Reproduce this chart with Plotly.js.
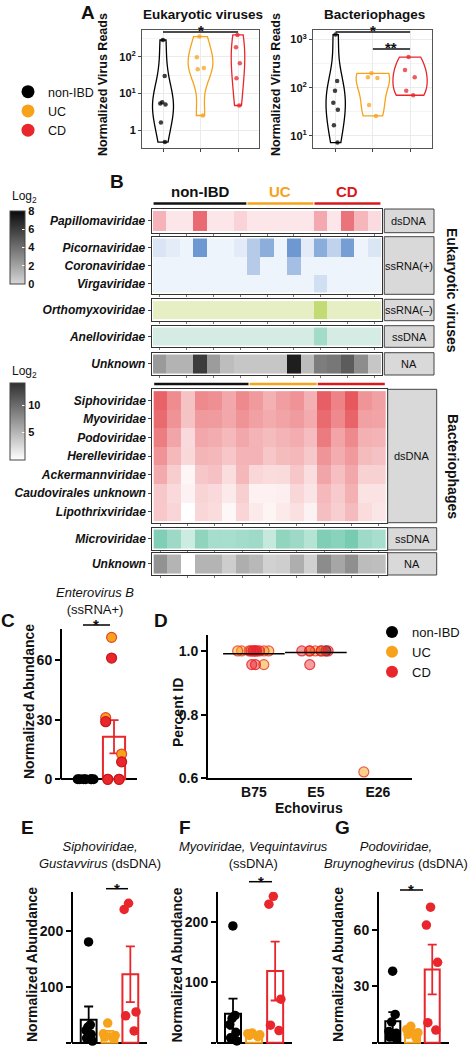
<!DOCTYPE html>
<html><head><meta charset="utf-8">
<script src="https://cdn.plot.ly/plotly-3.0.1.min.js"></script>
<style>html,body{margin:0;padding:0;background:#fff}#chart{width:470px;height:1050px}</style>
</head><body><div id="chart"></div>
<script>
// ================= DATA =================
const groups = ['non-IBD', 'UC', 'CD'];

// Panel A: normalized virus reads per sample
const eukNonIBD = [290, 30, 5.8, 5.3, 5.0, 1.6, 0.47];
const eukUC = [360, 98, 50, 46, 2.5];
const eukCD = [400, 185, 67, 26, 4.7];
const phageNonIBD = [1270, 138, 87, 49, 35, 16.7, 7.3];
const phageUC = [200, 165, 160, 44, 26];
const phageCD = [435, 235, 165, 87, 70];

// Panel B: log2 abundance heatmaps (17 samples)
const samples = ['N1','N2','N3','N4','N5','N6','N7','U1','U2','U3','U4','U5','C1','C2','C3','C4','C5'];
const sampleGroupSizes = [7, 5, 5];
const eukDsDNAFamilies = ['Papillomaviridae'];
const eukSsRNApFamilies = ['Picornaviridae', 'Coronaviridae', 'Virgaviridae'];
const eukSsRNAmFamilies = ['Orthomyxoviridae'];
const eukSsDNAFamilies = ['Anelloviridae'];
const eukNAFamilies = ['Unknown'];
const papillomaviridae = [2.3,0,0,5.5,0,0,0.85,0,0,0,0,0,2.7,0,5.1,2.1,0.5];
const picornaviridae = [0.9,0.46,0,5.4,0,0,0.5,2.4,4.1,0,5.4,0.5,4.15,1.9,5.0,0,0.84];
const coronaviridae = [0,0,0,0,0,0,0,2.4,0,0,3.1,0,0,0,0,0,0];
const virgaviridae = [0,0,0,0,0,0,0,0,0,0,0,0,1.2,0,0,0,0];
const orthomyxoviridae = [0,0,0,0,0,0,0,0,0,0,0,0,4,0,0,0,0];
const anelloviridae = [0,0,0,0,0,0,0,0,0,0,0,0,2.4,0,0,0,0];
const eukUnknown = [2.35,1.37,1.37,6.04,2.27,0.98,0.63,0.63,0.63,0.63,7.2,1.02,3.5,3.73,4.78,2.86,0.63];

const phageDsDNAFamilies = ['Siphoviridae','Myoviridae','Podoviridae','Herelleviridae','Ackermannviridae','Caudovirales unknown','Lipothrixviridae'];
const phageSsDNAFamilies = ['Microviridae'];
const phageNAFamilies = ['Unknown'];
const siphoviridae = [11.2,8.2,4.3,8.4,8.0,6.2,8.4,7.2,5.6,6.9,7.7,5.6,11.5,8.9,11.9,7.6,6.8];
const myoviridae = [10.6,7.7,4.3,7.2,7.1,6.2,7.7,6.8,6.0,6.6,7.1,6.0,10.6,8.4,11.1,6.8,6.6];
const podoviridae = [9.3,6.4,2.7,6.2,5.9,5.0,6.2,5.4,4.8,5.4,5.9,4.7,9.4,6.5,8.4,5.6,5.4];
const herelleviridae = [7.7,5.0,2.8,5.3,5.1,4.1,5.4,5.4,4.1,4.8,5.1,3.9,7.6,5.9,7.2,4.8,4.4];
const ackermannviridae = [6.1,3.6,0.7,4.1,4.4,2.4,5.1,2.9,2.5,2.6,4.1,2.4,6.4,4.5,6.2,3.3,3.3];
const caudoviralesUnknown = [3.9,2.7,0.9,3.1,2.7,1.6,3.4,1.0,1.0,1.2,2.9,1.9,5.0,3.7,5.6,2.1,2.0];
const lipothrixviridae = [4.0,3.0,0,2.9,2.5,0.6,3.0,1.6,0.8,1.6,2.2,0.9,4.6,3.4,4.9,2.5,1.8];
const microviridae = [7.8,6.0,3.1,6.8,5.4,5.3,5.6,5.9,3.5,6.7,6.0,4.5,7.8,7.2,8.3,5.9,5.3];
const phageUnknown = [7.4,5.1,0,5.1,5.1,3.4,5.5,4.8,3.1,3.3,5.5,3.2,7.8,6.0,7.6,4.5,4.4];

// Panel C: Enterovirus B normalized abundance
const cGroups = ['non-IBD', 'IBD'];
const enteroNonIBD = [0, 0, 0, 0, 0, 0, 0];
const enteroUC = [71.4, 31, 12.7, 0, 0];
const enteroCD = [61, 29, 8.8, 0, 0];

// Panel D: Echovirus percent identity
const echoTypes = ['B75', 'E5', 'E26'];
const echoNonIBDType = ['E5'];
const echoNonIBDPid = [1.0];
const echoUCType = ['B75','B75','B75','B75','B75','B75','E5','E5','E5','E26'];
const echoUCPid = [1,1,1,1,1,0.957,1,1,1,0.62];
const echoCDType = ['B75','B75','B75','B75','B75','B75','B75','B75','E5','E5','E5','E5','E5'];
const echoCDPid = [1,1,1,1,1,1,0.957,0.957,1,1,1,1,0.957];

// Panels E-G: normalized abundance per group
const siphoNonIBD = [180, 32, 28, 22, 15, 8, 3];
const siphoUC = [35, 16, 13, 10, 8];
const siphoCD = [249, 238, 55, 48, 21];
const myoNonIBD = [193, 45, 40, 30, 17, 8, 3];
const myoUC = [16, 15, 13, 12, 10];
const myoCD = [242, 229, 72, 29, 20];
const podoNonIBD = [38, 15, 11, 6, 5, 3, 2];
const podoUC = [8.7, 7, 5.3, 4.4, 2.6];
const podoCD = [72, 62.5, 42.7, 10.6, 6.7];

// ================= HELPERS =================
const FONT = 'Liberation Sans, Arial, Helvetica, sans-serif';
const W = 470, H = 1050;
const COL = {'non-IBD': '#000000', 'UC': '#f7a21b', 'CD': '#e8262b', 'IBD': '#e8262b'};
const dx = (a, b) => [a / W, b / W];
const dy = (top, bottom) => [1 - bottom / H, 1 - top / H];
const px = v => v / W;
const py = v => 1 - v / H;
const mean = a => a.reduce((s, v) => s + v, 0) / a.length;
const sem = a => { const m = mean(a); return Math.sqrt(a.reduce((s, v) => s + (v - m) * (v - m), 0) / (a.length - 1)) / Math.sqrt(a.length); };
const axN = i => (i === 1 ? '' : String(i));

const traces = [];
const layout = {
  width: W, height: H, margin: {l: 0, r: 0, t: 0, b: 0},
  paper_bgcolor: '#fff', plot_bgcolor: '#fff',
  font: {family: FONT, color: '#111'},
  showlegend: true, barmode: 'overlay', boxmode: 'overlay', violinmode: 'overlay',
  annotations: [], shapes: []
};
function ann(text, x, y, font, extra) {
  layout.annotations.push(Object.assign({text, x: px(x), y: py(y), xref: 'paper', yref: 'paper', showarrow: false,
    xanchor: 'center', yanchor: 'middle', font: Object.assign({family: FONT, color: '#111'}, font)}, extra || {}));
}
function hline(x0, x1, y, color, width) {
  layout.shapes.push({type: 'line', xref: 'paper', yref: 'paper', x0: px(x0), x1: px(x1), y0: py(y), y1: py(y), line: {color, width}});
}

// ================= PANEL A =================
function violin(vals, g, ax, width) {
  return {type: 'violin', x: vals.map(() => g), y: vals.map(v => Math.log10(v)),
    xaxis: 'x' + axN(ax), yaxis: 'y' + axN(ax), spanmode: 'hard', points: 'all', pointpos: 0, jitter: 0.35,
    width, fillcolor: 'rgba(0,0,0,0)', line: {color: COL[g], width: 1.3},
    marker: {color: COL[g], opacity: 0.75, size: 4.5}, box: {visible: false}, meanline: {visible: false},
    showlegend: false, hoveron: 'points', name: g};
}
traces.push(violin(eukNonIBD, 'non-IBD', 1, 0.56), violin(eukUC, 'UC', 1, 0.66), violin(eukCD, 'CD', 1, 0.36));
traces.push(violin(phageNonIBD, 'non-IBD', 2, 0.52), violin(phageUC, 'UC', 2, 0.9), violin(phageCD, 'CD', 2, 0.92));
// legend entries for panel A
groups.forEach(g => traces.push({type: 'scatter', x: [null], y: [null], mode: 'markers', name: g, legend: 'legend',
  marker: {color: COL[g], size: 13}, xaxis: 'x', yaxis: 'y'}));

function aX(d) {
  return {domain: d, type: 'category', categoryorder: 'array', categoryarray: groups, range: [-0.56, 2.56],
    showticklabels: false, ticks: 'outside', ticklen: 3, tickcolor: '#444', showgrid: true, gridcolor: '#ebebeb',
    showline: true, mirror: true, linecolor: '#555', linewidth: 1, zeroline: false, fixedrange: true};
}
function aY(d, range, tv, tt, minor) {
  return {domain: d, range, tickvals: tv, ticktext: tt, tickfont: {size: 11, weight: 'bold', color: '#111'},
    ticks: 'outside', ticklen: 3, tickcolor: '#444', showgrid: true, gridcolor: '#ebebeb',
    minor: {tickvals: minor, showgrid: true, gridcolor: '#f4f4f4'},
    showline: true, mirror: true, linecolor: '#555', linewidth: 1, zeroline: false, fixedrange: true};
}
layout.xaxis = Object.assign(aX(dx(142, 259)), {anchor: 'y'});
layout.yaxis = Object.assign(aY(dy(29.5, 148), [-0.49, 2.75], [0, 1, 2], ['1', '10<sup>1</sup>', '10<sup>2</sup>'], [-0.5, 0.5, 1.5, 2.5]), {anchor: 'x'});
layout.xaxis2 = Object.assign(aX(dx(313, 432)), {anchor: 'y2', range: [-0.61, 2.59]});
layout.yaxis2 = Object.assign(aY(dy(29.5, 148), [0.75, 3.21], [1, 2, 3], ['10<sup>1</sup>', '10<sup>2</sup>', '10<sup>3</sup>'], [1.5, 2.5]), {anchor: 'x2'});

layout.legend = {x: px(8), xanchor: 'left', y: py(77), yanchor: 'top', font: {size: 12.5, family: FONT, color: '#111'},
  bgcolor: 'rgba(0,0,0,0)', itemsizing: 'trace', tracegroupgap: 0};

ann('<b>A</b>', 88, 12.5, {size: 19});
ann('<b>Eukaryotic viruses</b>', 203, 15, {size: 13.5});
ann('<b>Bacteriophages</b>', 374, 15, {size: 13.5});
ann('<b>Normalized Virus Reads</b>', 103, 85, {size: 12.5}, {textangle: -90});
ann('<b>Normalized Virus Reads</b>', 276, 85, {size: 12.5}, {textangle: -90});
// significance
layout.shapes.push({type: 'line', xref: 'x', yref: 'paper', x0: 0, x1: 2, y0: py(32), y1: py(32), line: {color: '#111', width: 1.3}});
layout.shapes.push({type: 'line', xref: 'x2', yref: 'paper', x0: 0, x1: 2, y0: py(32), y1: py(32), line: {color: '#111', width: 1.3}});
layout.shapes.push({type: 'line', xref: 'x2', yref: 'paper', x0: 1, x1: 2, y0: py(49), y1: py(49), line: {color: '#111', width: 1.3}});
const starFont = {size: 15, family: FONT, color: '#111'};
layout.annotations.push({text: '<b>*</b>', xref: 'x', x: 1, yref: 'paper', y: py(31), xanchor: 'center', yanchor: 'middle', showarrow: false, font: starFont});
layout.annotations.push({text: '<b>*</b>', xref: 'x2', x: 1, yref: 'paper', y: py(31), xanchor: 'center', yanchor: 'middle', showarrow: false, font: starFont});
layout.annotations.push({text: '<b>**</b>', xref: 'x2', x: 1.5, yref: 'paper', y: py(48), xanchor: 'center', yanchor: 'middle', showarrow: false, font: starFont});

// ================= PANEL B =================
const scales = {
  eukDs: [[0, '#fde6ea'], [1, '#e0323c']],
  eukRp: [[0, '#eef4fb'], [1, '#2f6bbd']],
  eukRm: [[0, '#e6efc4'], [1, '#9ec623']],
  eukSs: [[0, '#d4ece4'], [1, '#2db58a']],
  eukNA: [[0, '#d6d6d6'], [1, '#0a0a0a']],
  phDs: [[0, '#ffffff'], [1, '#e23b42']],
  phSs: [[0, '#ffffff'], [1, '#1aa77a']],
  phNA: [[0, '#ffffff'], [1, '#303030']]
};
function heat(ax, rows, z, scale, zmax, cb) {
  const t = {type: 'heatmap', x: samples, y: rows, z, zmin: 0, zmax, colorscale: scale, showscale: !!cb,
    xaxis: 'x' + ax, yaxis: 'y' + ax, hoverongaps: false, name: rows.join(',')};
  if (cb) t.colorbar = cb;
  return t;
}
function hX(ax, d) {
  return {domain: d, anchor: 'y' + ax, type: 'category', categoryorder: 'array', categoryarray: samples, range: [-0.6, 16.6],
    showticklabels: false, ticks: 'outside', ticklen: 2, tickcolor: '#777', showline: true, mirror: true,
    linecolor: '#333', linewidth: 1, showgrid: false, zeroline: false, fixedrange: true};
}
function hY(ax, d, rows) {
  return {domain: d, anchor: 'x' + ax, type: 'category', categoryorder: 'array', categoryarray: rows,
    range: [rows.length - 0.4, -0.6], tickfont: {size: 12, weight: 'bold', style: 'italic', color: '#111', family: FONT},
    ticks: 'outside', ticklen: 3, tickcolor: '#444', showline: true, mirror: true, linecolor: '#333', linewidth: 1,
    showgrid: false, zeroline: false, fixedrange: true};
}
const cbBase = {x: px(10), xanchor: 'left', xpad: 0, ypad: 0, yanchor: 'top', lenmode: 'pixels', thickness: 15,
  outlinewidth: 1, outlinecolor: '#444', ticks: 'inside', tickcolor: '#fff', ticklen: 3,
  tickfont: {size: 11, weight: 'bold', color: '#111', family: FONT}, title: {text: ''}};

const eukX = dx(151.7, 382.3);
const phX = dx(152.3, 386.7);
const eukPanels = [
  {ax: 3, rows: eukDsDNAFamilies, z: [papillomaviridae], sc: scales.eukDs, top: 209, bot: 232.7, strip: 'dsDNA'},
  {ax: 4, rows: eukSsRNApFamilies, z: [picornaviridae, coronaviridae, virgaviridae], sc: scales.eukRp, top: 236.7, bot: 294.3, strip: 'ssRNA(+)'},
  {ax: 5, rows: eukSsRNAmFamilies, z: [orthomyxoviridae], sc: scales.eukRm, top: 299.3, bot: 320.7, strip: 'ssRNA(\u2013)'},
  {ax: 6, rows: eukSsDNAFamilies, z: [anelloviridae], sc: scales.eukSs, top: 325.7, bot: 347.3, strip: 'ssDNA'},
  {ax: 7, rows: eukNAFamilies, z: [eukUnknown], sc: scales.eukNA, top: 352.7, bot: 375, strip: 'NA',
    cb: Object.assign({}, cbBase, {y: py(211), len: 73, tickvals: [0, 2, 4, 6, 8]})}
];
const phPanels = [
  {ax: 8, rows: phageDsDNAFamilies, z: [siphoviridae, myoviridae, podoviridae, herelleviridae, ackermannviridae, caudoviralesUnknown, lipothrixviridae], sc: scales.phDs, top: 389.3, bot: 522.7, strip: 'dsDNA'},
  {ax: 9, rows: phageSsDNAFamilies, z: [microviridae], sc: scales.phSs, top: 527.7, bot: 550, strip: 'ssDNA'},
  {ax: 10, rows: phageNAFamilies, z: [phageUnknown], sc: scales.phNA, top: 552.7, bot: 575, strip: 'NA',
    cb: Object.assign({}, cbBase, {y: py(383), len: 77, tickvals: [5, 10]})}
];
eukPanels.forEach(p => {
  traces.push(heat(p.ax, p.rows, p.z, p.sc, 8, p.cb));
  layout['xaxis' + p.ax] = hX(p.ax, eukX);
  layout['yaxis' + p.ax] = hY(p.ax, dy(p.top, p.bot), p.rows);
  layout.shapes.push({type: 'rect', xref: 'paper', yref: 'paper', x0: px(384.3), x1: px(434), y0: py(p.bot), y1: py(p.top), fillcolor: '#d9d9d9', line: {color: '#444', width: 1}});
  ann(p.strip, 409, (p.top + p.bot) / 2, {size: 11});
});
phPanels.forEach(p => {
  traces.push(heat(p.ax, p.rows, p.z, p.sc, 14, p.cb));
  layout['xaxis' + p.ax] = hX(p.ax, phX);
  layout['yaxis' + p.ax] = hY(p.ax, dy(p.top, p.bot), p.rows);
  layout.shapes.push({type: 'rect', xref: 'paper', yref: 'paper', x0: px(387.7), x1: px(436.7), y0: py(p.bot), y1: py(p.top), fillcolor: '#d9d9d9', line: {color: '#444', width: 1}});
  ann(p.strip, 412, (p.top + p.bot) / 2, {size: 11});
});
// group bars above heatmaps
const groupLabelColors = ['#111111', '#f7a21b', '#d7191c'];
let start = 0;
sampleGroupSizes.forEach((n, i) => {
  const x0 = start - 0.46, x1 = start + n - 1 + 0.46;
  [['x3', 203.5], ['x8', 384]].forEach(([xr, yy]) => layout.shapes.push({type: 'line', xref: xr, yref: 'paper', x0, x1,
    y0: py(yy), y1: py(yy), line: {color: groupLabelColors[i], width: 2.5}}));
  layout.annotations.push({text: '<b>' + groups[i] + '</b>', xref: 'x3', x: start + (n - 1) / 2, yref: 'paper', y: py(191),
    xanchor: 'center', yanchor: 'middle', showarrow: false, font: {size: 15, family: FONT, color: groupLabelColors[i]}});
  start += n;
});
ann('<b>B</b>', 117, 181, {size: 19});
ann('Log<sub>2</sub>', 10, 197, {size: 12}, {xanchor: 'left'});
ann('Log<sub>2</sub>', 10, 372, {size: 12}, {xanchor: 'left'});
ann('<b>Eukaryotic viruses</b>', 452, 290, {size: 14}, {textangle: 90});
ann('<b>Bacteriophages</b>', 453, 466, {size: 14}, {textangle: 90});

// ================= BAR + DOT PANELS (C, E, F, G) =================
function dots(ax, cat, vals, color, size, outline) {
  return {type: 'box', x: vals.map(() => cat), y: vals, xaxis: 'x' + ax, yaxis: 'y' + ax, boxpoints: 'all', jitter: 1,
    pointpos: 0, width: 0.7, fillcolor: 'rgba(0,0,0,0)', line: {width: 0, color: 'rgba(0,0,0,0)'},
    marker: {color, size, line: outline ? {color: outline, width: 1.2} : {width: 0}}, showlegend: false, hoveron: 'points', name: cat};
}
function bar(ax, cat, vals, color, width) {
  return {type: 'bar', x: [cat], y: [mean(vals)], xaxis: 'x' + ax, yaxis: 'y' + ax, width,
    marker: {color: 'rgba(255,255,255,0)', line: {color, width: 2}},
    error_y: {type: 'data', array: [sem(vals)], color, thickness: 1.8, width: 4.5}, showlegend: false, name: cat};
}
function dotX(d, cats, range) {
  return {domain: d, type: 'category', categoryorder: 'array', categoryarray: cats, range, showticklabels: false,
    ticks: '', showline: false, showgrid: false, zeroline: false, fixedrange: true};
}
function dotY(d, range, tv) {
  return {domain: d, range, tickvals: tv, ticks: 'outside', ticklen: 5, tickwidth: 2, tickcolor: '#000',
    tickfont: {size: 14, weight: 'bold', color: '#111', family: FONT}, showline: false, showgrid: false,
    zeroline: true, zerolinecolor: '#000', zerolinewidth: 2, fixedrange: true};
}
function yLine(ax, top) {
  layout.shapes.push({type: 'line', xref: 'x' + ax + ' domain', yref: 'y' + ax, x0: 0, x1: 0, y0: 0, y1: top, line: {color: '#000', width: 2}});
}

// Panel C
const enteroIBD = enteroUC.concat(enteroCD);
traces.push(bar(11, 'non-IBD', enteroNonIBD, '#000', 0.79), bar(11, 'IBD', enteroIBD, COL.IBD, 0.79));
traces.push(dots(11, 'non-IBD', enteroNonIBD, '#000', 10), dots(11, 'IBD', enteroUC, COL.UC, 10, '#e8452c'), dots(11, 'IBD', enteroCD, COL.CD, 10, '#c8161c'));
layout.xaxis11 = Object.assign(dotX(dx(61, 137), cGroups, [-0.89, 1.82]), {anchor: 'y11'});
layout.yaxis11 = Object.assign(dotY(dy(629, 785.3), [-3, 75.6], [0, 30, 60]), {anchor: 'x11'});
yLine(11, 75.6);
ann('<b>C</b>', 8, 620, {size: 19});
ann('<i>Enterovirus B</i><br>(ssRNA+)', 95, 601, {size: 13});
ann('<b>Normalized Abundance</b>', 29, 702, {size: 14}, {textangle: -90});
hline(83, 110, 625, '#000', 1.5);
ann('<b>*</b>', 96, 624, {size: 15});

// Panels E, F, G
const efg = [
  {ax: 13, nonIBD: siphoNonIBD, uc: siphoUC, cd: siphoCD, xd: dx(72, 147), xr: [-0.8, 2.8], yd: dy(891.7, 1048.7), yr: [-10.7, 269.6], tv: [0, 100, 200]},
  {ax: 14, nonIBD: myoNonIBD, uc: myoUC, cd: myoCD, xd: dx(217, 292), xr: [-0.76, 2.8], yd: dy(891.7, 1048.7), yr: [-9.9, 249.6], tv: [0, 100, 200]},
  {ax: 15, nonIBD: podoNonIBD, uc: podoUC, cd: podoCD, xd: dx(378, 449), xr: [-0.75, 2.85], yd: dy(891.7, 1048.7), yr: [-3.2, 80.2], tv: [0, 30, 60]}
];
efg.forEach(p => {
  traces.push(bar(p.ax, 'non-IBD', p.nonIBD, '#000', 0.76), bar(p.ax, 'UC', p.uc, COL.UC, 0.76), bar(p.ax, 'CD', p.cd, COL.CD, 0.76));
  traces.push(dots(p.ax, 'non-IBD', p.nonIBD, '#000', 9.5), dots(p.ax, 'UC', p.uc, COL.UC, 9.5), dots(p.ax, 'CD', p.cd, COL.CD, 9.5));
  layout['xaxis' + p.ax] = Object.assign(dotX(p.xd, groups, p.xr), {anchor: 'y' + p.ax});
  layout['yaxis' + p.ax] = Object.assign(dotY(p.yd, p.yr, p.tv), {anchor: 'x' + p.ax});
  yLine(p.ax, p.yr[1]);
});
ann('<b>E</b>', 27.5, 827, {size: 19});
ann('<b>F</b>', 185, 827, {size: 19});
ann('<b>G</b>', 342.5, 827, {size: 19});
ann('<i>Siphoviridae,</i><br><i>Gustavvirus</i> (dsDNA)', 100, 855, {size: 13});
ann('<i>Myoviridae, Vequintavirus</i><br>(ssDNA)', 253, 855, {size: 13});
ann('<i>Podoviridae,</i><br><i>Bruynoghevirus</i> (dsDNA)', 396, 855, {size: 13});
ann('<b>Normalized Abundance</b>', 32, 965, {size: 14}, {textangle: -90});
ann('<b>Normalized Abundance</b>', 176.5, 965, {size: 14}, {textangle: -90});
ann('<b>Normalized Abundance</b>', 338, 965, {size: 14}, {textangle: -90});
hline(106, 128, 888.7, '#000', 1.5); ann('<b>*</b>', 117, 888, {size: 15});
hline(249, 272, 881.7, '#000', 1.5); ann('<b>*</b>', 260.5, 881, {size: 15});
hline(400, 423, 890, '#000', 1.5); ann('<b>*</b>', 411, 889, {size: 15});

// ================= PANEL D =================
function echoDots(types, vals, fill, outline) {
  return {type: 'box', x: types, y: vals, xaxis: 'x12', yaxis: 'y12', boxpoints: 'all', jitter: 1, pointpos: 0, width: 0.62,
    fillcolor: 'rgba(0,0,0,0)', line: {width: 0, color: 'rgba(0,0,0,0)'},
    marker: {color: fill, size: 10, line: {color: outline, width: 1.2}}, showlegend: false, hoveron: 'points'};
}
traces.push(echoDots(echoNonIBDType, echoNonIBDPid, 'rgba(0,0,0,0.55)', 'rgba(0,0,0,0.8)'));
traces.push(echoDots(echoUCType, echoUCPid, 'rgba(247,162,27,0.5)', 'rgba(232,69,44,0.85)'));
traces.push(echoDots(echoCDType, echoCDPid, 'rgba(232,38,43,0.45)', 'rgba(232,38,43,0.85)'));
const allTypes = echoNonIBDType.concat(echoUCType, echoCDType);
const allPid = echoNonIBDPid.concat(echoUCPid, echoCDPid);
const meanTypes = echoTypes.filter(t => allTypes.filter(x => x === t).length > 1);
const meanVals = meanTypes.map(t => mean(allPid.filter((v, i) => allTypes[i] === t)));
traces.push({type: 'scatter', mode: 'markers', x: meanTypes, y: meanVals, xaxis: 'x12', yaxis: 'y12', showlegend: false,
  marker: {symbol: 'line-ew', size: 44, line: {color: '#000', width: 1.5}}, cliponaxis: false});
groups.forEach(g => traces.push({type: 'scatter', x: [null], y: [null], mode: 'markers', name: g, legend: 'legend2',
  marker: {color: COL[g], size: 12}, xaxis: 'x12', yaxis: 'y12'}));
layout.xaxis12 = {domain: dx(208, 412), anchor: 'y12', type: 'category', categoryorder: 'array', categoryarray: echoTypes,
  range: [-0.74, 2.55], ticks: '', tickfont: {size: 14, weight: 'bold', color: '#111', family: FONT}, showline: true,
  linecolor: '#000', linewidth: 2, showgrid: false, zeroline: false, fixedrange: true};
layout.yaxis12 = {domain: dy(635, 778.3), anchor: 'x12', range: [0.6, 1.05], tickvals: [0.6, 0.8, 1.0], ticktext: ['0.6', '0.8', '1.0'],
  ticks: 'outside', ticklen: 5, tickwidth: 2, tickcolor: '#000', tickfont: {size: 14, weight: 'bold', color: '#111', family: FONT},
  showline: true, linecolor: '#000', linewidth: 2, showgrid: false, zeroline: false, fixedrange: true};
layout.legend2 = {x: px(372), xanchor: 'left', y: py(617), yanchor: 'top', font: {size: 13, family: FONT, color: '#111'},
  bgcolor: 'rgba(0,0,0,0)', itemsizing: 'trace', tracegroupgap: 0};
ann('<b>D</b>', 161, 620, {size: 19});
ann('<b>Percent ID</b>', 178, 713, {size: 14}, {textangle: -90});
ann('<b>Echovirus</b>', 309, 808, {size: 14});

Plotly.newPlot('chart', traces, layout, {staticPlot: true, displayModeBar: false});
</script>
</body></html>
